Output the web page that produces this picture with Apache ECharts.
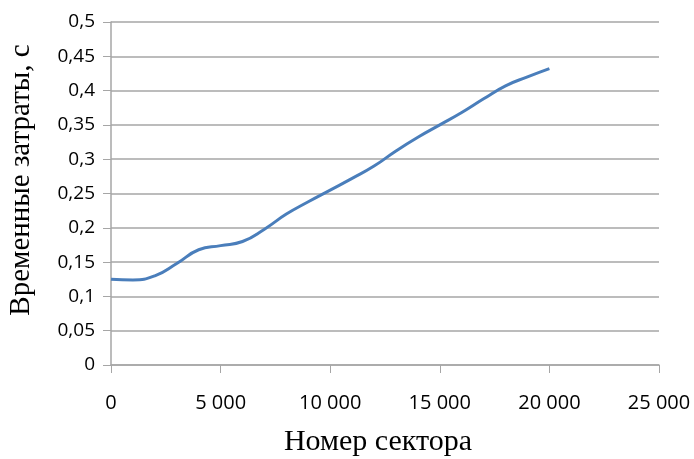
<!DOCTYPE html>
<html><head><meta charset="utf-8">
<script src="https://cdn.jsdelivr.net/npm/echarts@6/dist/echarts.min.js"></script>
<style>html,body{margin:0;padding:0;background:#fff}#c{width:694px;height:459px}</style>
</head><body><div id="c"></div>
<script>
const sectors = [0,1000,2000,3000,4000,5000,6000,7000,8000,9000,10000,11000,12000,13000,14000,15000,16000,17000,18000,19000,20000];
const times = [0.125,0.124,0.13,0.148,0.168,0.174,0.18,0.198,0.22,0.238,0.255,0.272,0.29,0.312,0.332,0.35,0.368,0.388,0.407,0.42,0.432];
const xTitle = 'Номер сектора';
const yTitle = 'Временные затраты, с';

const chart = echarts.init(document.getElementById('c'));
chart.setOption({
  animation:false,
  grid:{left:111,right:35,top:22,bottom:94,outerBoundsMode:'none',containLabel:false},
  xAxis:{type:'value',min:0,max:25000,interval:5000,
    name:xTitle,nameLocation:'middle',nameGap:62,
    nameTextStyle:{fontFamily:'Liberation Serif',fontSize:30,color:'#000',padding:[0,14,0,0]},
    axisLine:{lineStyle:{color:'#a6a6a6',width:1.5}},
    axisTick:{show:true,length:8,lineStyle:{color:'#a6a6a6'}},
    axisLabel:{margin:28,fontFamily:'Open Sans',fontSize:20,color:'#000',
      formatter:v=>v===0?'0':String(v).replace(/\B(?=(\d{3})+(?!\d))/g,' ')},
    splitLine:{show:false}},
  yAxis:{type:'value',min:0,max:0.5,interval:0.05,
    name:yTitle,nameLocation:'middle',nameGap:75,
    nameTextStyle:{fontFamily:'Liberation Serif',fontSize:29,color:'#000',padding:[0,0,0,27]},
    axisLine:{show:true,lineStyle:{color:'#a6a6a6',width:1.5}},
    axisTick:{show:true,length:8,lineStyle:{color:'#a6a6a6'}},
    axisLabel:{margin:16,fontFamily:'Open Sans',fontSize:19,color:'#000',
      formatter:v=>String(Math.round(v*100)/100).replace('.',',')},
    splitLine:{show:true,lineStyle:{color:'#a6a6a6',width:1.5}}},
  series:[{type:'line',data:sectors.map((s,i)=>[s,times[i]]),smooth:0.5,showSymbol:false,
    lineStyle:{color:'#4a7ebb',width:3}}]
});
</script></body></html>
